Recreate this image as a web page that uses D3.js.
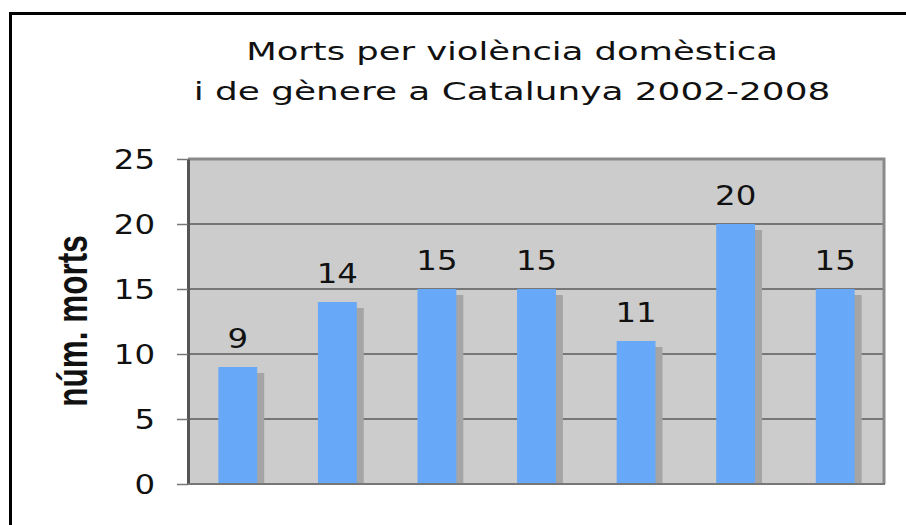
<!DOCTYPE html>
<html>
<head>
<meta charset="utf-8">
<script src="https://cdn.jsdelivr.net/npm/d3@7"></script>
<style>
    body { margin: 0; background: #fff; }
    svg { display: block; }
    .title { font-family: "DejaVu Sans", Verdana, sans-serif; font-size: 25.5px; fill: #111; }
    .num { font-family: "DejaVu Sans", Verdana, sans-serif; font-size: 27px; fill: #111; }
    .ylabel { font-family: "Liberation Sans", Arial, sans-serif; font-weight: bold; font-size: 31.5px; fill: #111; }
</style>
</head>
<body>
<div id="chart"></div>
<script>
// Morts per violència domèstica - bar chart

var years = ['2002', '2003', '2004', '2005', '2006', '2007', '2008'];
var deaths = [9, 14, 15, 15, 11, 20, 15];
var yTicks = [0, 5, 10, 15, 20, 25];
var titleLines = ['Morts per violència domèstica', 'i de gènere a Catalunya 2002-2008'];
var yTitle = 'núm. morts';

var width = 906,
    height = 525;

var plot = { left: 188, right: 885, top: 159, bottom: 484 };

var svg = d3.select('#chart').append('svg')
    .attr('width', width)
    .attr('height', height);

// outer frame (right and bottom edges fall outside the picture)
svg.append('rect')
    .attr('x', 10.5)
    .attr('y', 13.5)
    .attr('width', 1000)
    .attr('height', 1000)
    .attr('fill', 'none')
    .attr('stroke', '#000')
    .attr('stroke-width', 3);

var x = d3.scaleBand()
    .domain(years)
    .range([plot.left, plot.right])
    .paddingInner(0.61)
    .paddingOuter(0.305);

var y = d3.scaleLinear()
    .domain([0, 25])
    .range([plot.bottom, plot.top]);

// stretch text horizontally, like the original picture
function stretch(sel, sx) {
    sel.attr('transform', function () {
        var t = d3.select(this);
        var px = +t.attr('x'), py = +t.attr('y');
        return 'translate(' + px + ',' + py + ') scale(' + sx + ',1) translate(' + (-px) + ',' + (-py) + ')';
    });
}

// title, fitted to the measured widths
var titleWidths = [532, 637];
svg.selectAll('.title')
    .data(titleLines)
    .enter().append('text')
    .attr('class', 'title')
    .attr('x', 512)
    .attr('y', function (d, i) { return 60 + i * 40; })
    .attr('text-anchor', 'middle')
    .text(function (d) { return d; })
    .each(function (d, i) {
        var w = this.getComputedTextLength();
        stretch(d3.select(this), titleWidths[i] / w);
    });

// plot background
svg.append('rect')
    .attr('x', plot.left)
    .attr('y', plot.top)
    .attr('width', plot.right - plot.left)
    .attr('height', plot.bottom - plot.top)
    .attr('fill', '#cccccc');

// gridlines
svg.selectAll('.grid')
    .data(yTicks.filter(function (d) { return d > 0 && d < 25; }))
    .enter().append('line')
    .attr('class', 'grid')
    .attr('x1', plot.left)
    .attr('x2', plot.right)
    .attr('y1', function (d) { return y(d); })
    .attr('y2', function (d) { return y(d); })
    .attr('stroke', '#777')
    .attr('stroke-width', 2);

// plot border (top and right)
svg.append('path')
    .attr('d', 'M' + plot.left + ',' + y(25) + 'H' + (plot.right - 1) + 'V' + plot.bottom)
    .attr('fill', 'none')
    .attr('stroke', '#8a8a8a')
    .attr('stroke-width', 3);

// shadows
svg.selectAll('.shadow')
    .data(deaths)
    .enter().append('rect')
    .attr('class', 'shadow')
    .attr('x', function (d, i) { return x(years[i]) + 7; })
    .attr('y', function (d) { return y(d) + 6; })
    .attr('width', x.bandwidth())
    .attr('height', function (d) { return y(0) - y(d) - 6; })
    .attr('fill', '#a5a5a5');

// bars
svg.selectAll('.bar')
    .data(deaths)
    .enter().append('rect')
    .attr('class', 'bar')
    .attr('x', function (d, i) { return x(years[i]); })
    .attr('y', function (d) { return y(d); })
    .attr('width', x.bandwidth())
    .attr('height', function (d) { return y(0) - y(d); })
    .attr('fill', '#68a8f8');

// value labels
svg.selectAll('.val')
    .data(deaths)
    .enter().append('text')
    .attr('class', 'num val')
    .attr('x', function (d, i) { return x(years[i]) + x.bandwidth() / 2; })
    .attr('y', function (d) { return y(d) - 19; })
    .attr('text-anchor', 'middle')
    .text(function (d) { return d; })
    .call(stretch, 1.2);

// y axis
var yAxis = d3.axisLeft(y)
    .tickValues(yTicks)
    .tickSize(11)
    .tickPadding(22)
    .tickSizeOuter(0);

var gy = svg.append('g')
    .attr('transform', 'translate(' + plot.left + ',0)')
    .call(yAxis);

gy.select('.domain')
    .attr('stroke', '#555')
    .attr('stroke-width', 3);
gy.selectAll('.tick line')
    .attr('stroke', '#777')
    .attr('stroke-width', 1.5);
gy.selectAll('.tick text')
    .attr('class', 'num')
    .attr('fill', '#111')
    .attr('font-size', null)
    .attr('font-family', null)
    .attr('y', 0)
    .attr('dy', '0.36em')
    .call(stretch, 1.2);
gy.attr('font-size', null).attr('font-family', null);

// bottom axis line
svg.append('line')
    .attr('x1', plot.left)
    .attr('x2', plot.right)
    .attr('y1', y(0))
    .attr('y2', y(0))
    .attr('stroke', '#777')
    .attr('stroke-width', 2);

// y axis title
svg.append('text')
    .attr('class', 'ylabel')
    .attr('text-anchor', 'middle')
    .attr('transform', 'translate(87,321) scale(1.35,1) rotate(-90)')
    .text(yTitle);
</script>
</body>
</html>
